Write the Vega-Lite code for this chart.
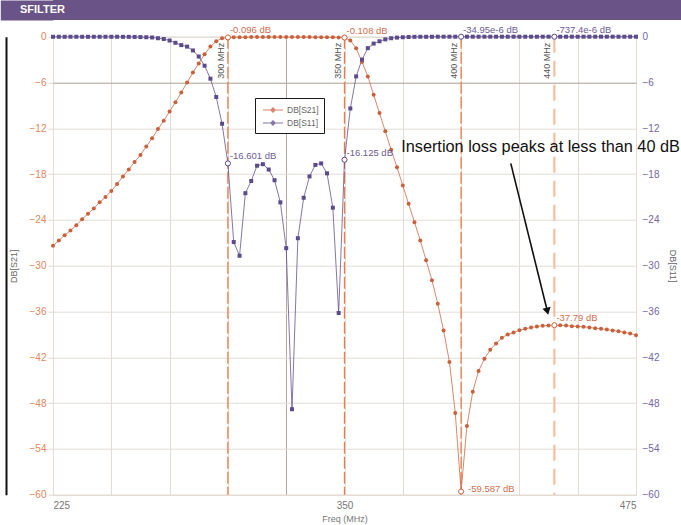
{
  "$schema": "https://vega.github.io/schema/vega-lite/v6.json",
  "padding": 0,
  "background": "white",
  "config": {"font": "Liberation Sans", "view": {"stroke": "#d8d0c9"}},
  "datasets": {
    "hdr": [{"w": "SFILTER", "v": 0.5}],
    "curves": [
      {"f":225,"s":"DB[S21]","db":-27.4},{"f":227.5,"s":"DB[S21]","db":-26.7},{"f":230,"s":"DB[S21]","db":-26.0},{"f":232.5,"s":"DB[S21]","db":-25.4},{"f":235,"s":"DB[S21]","db":-24.7},{"f":237.5,"s":"DB[S21]","db":-23.9},{"f":240,"s":"DB[S21]","db":-23.2},{"f":242.5,"s":"DB[S21]","db":-22.5},{"f":245,"s":"DB[S21]","db":-21.7},{"f":247.5,"s":"DB[S21]","db":-21.0},
      {"f":250,"s":"DB[S21]","db":-20.2},{"f":252.5,"s":"DB[S21]","db":-19.3},{"f":255,"s":"DB[S21]","db":-18.3},{"f":257.5,"s":"DB[S21]","db":-17.4},{"f":260,"s":"DB[S21]","db":-16.4},{"f":262.5,"s":"DB[S21]","db":-15.5},{"f":265,"s":"DB[S21]","db":-14.4},{"f":267.5,"s":"DB[S21]","db":-13.3},{"f":270,"s":"DB[S21]","db":-12.1},{"f":272.5,"s":"DB[S21]","db":-11.0},
      {"f":275,"s":"DB[S21]","db":-9.8},{"f":277.5,"s":"DB[S21]","db":-8.6},{"f":280,"s":"DB[S21]","db":-7.3},{"f":282.5,"s":"DB[S21]","db":-6.0},{"f":285,"s":"DB[S21]","db":-4.7},{"f":287.5,"s":"DB[S21]","db":-3.5},{"f":290,"s":"DB[S21]","db":-2.3},{"f":292.5,"s":"DB[S21]","db":-1.3},{"f":295,"s":"DB[S21]","db":-0.6},{"f":297.5,"s":"DB[S21]","db":-0.2},
      {"f":300,"s":"DB[S21]","db":-0.096},{"f":302.5,"s":"DB[S21]","db":-0.08},{"f":305,"s":"DB[S21]","db":-0.07},{"f":307.5,"s":"DB[S21]","db":-0.06},{"f":310,"s":"DB[S21]","db":-0.05},{"f":312.5,"s":"DB[S21]","db":-0.05},{"f":315,"s":"DB[S21]","db":-0.05},{"f":317.5,"s":"DB[S21]","db":-0.05},{"f":320,"s":"DB[S21]","db":-0.05},{"f":322.5,"s":"DB[S21]","db":-0.05},
      {"f":325,"s":"DB[S21]","db":-0.05},{"f":327.5,"s":"DB[S21]","db":-0.05},{"f":330,"s":"DB[S21]","db":-0.05},{"f":332.5,"s":"DB[S21]","db":-0.05},{"f":335,"s":"DB[S21]","db":-0.05},{"f":337.5,"s":"DB[S21]","db":-0.06},{"f":340,"s":"DB[S21]","db":-0.06},{"f":342.5,"s":"DB[S21]","db":-0.07},{"f":345,"s":"DB[S21]","db":-0.08},{"f":347.5,"s":"DB[S21]","db":-0.09},
      {"f":350,"s":"DB[S21]","db":-0.108},{"f":352.5,"s":"DB[S21]","db":-0.5},{"f":355,"s":"DB[S21]","db":-1.5},{"f":357.5,"s":"DB[S21]","db":-3.3},{"f":360,"s":"DB[S21]","db":-5.2},{"f":362.5,"s":"DB[S21]","db":-7.6},{"f":365,"s":"DB[S21]","db":-10.0},{"f":367.5,"s":"DB[S21]","db":-12.4},{"f":370,"s":"DB[S21]","db":-14.8},{"f":372.5,"s":"DB[S21]","db":-17.1},
      {"f":375,"s":"DB[S21]","db":-19.5},{"f":377.5,"s":"DB[S21]","db":-21.9},{"f":380,"s":"DB[S21]","db":-24.3},{"f":382.5,"s":"DB[S21]","db":-26.7},{"f":385,"s":"DB[S21]","db":-29.3},{"f":387.5,"s":"DB[S21]","db":-31.9},{"f":390,"s":"DB[S21]","db":-35.0},{"f":392.5,"s":"DB[S21]","db":-38.5},{"f":395,"s":"DB[S21]","db":-42.6},{"f":397.5,"s":"DB[S21]","db":-49.3},
      {"f":400,"s":"DB[S21]","db":-59.587},{"f":402.5,"s":"DB[S21]","db":-51.0},{"f":405,"s":"DB[S21]","db":-46.5},{"f":407.5,"s":"DB[S21]","db":-43.8},{"f":410,"s":"DB[S21]","db":-42.2},{"f":412.5,"s":"DB[S21]","db":-41.0},{"f":415,"s":"DB[S21]","db":-40.2},{"f":417.5,"s":"DB[S21]","db":-39.45},{"f":420,"s":"DB[S21]","db":-39.0},{"f":422.5,"s":"DB[S21]","db":-38.75},
      {"f":425,"s":"DB[S21]","db":-38.45},{"f":427.5,"s":"DB[S21]","db":-38.27},{"f":430,"s":"DB[S21]","db":-38.1},{"f":432.5,"s":"DB[S21]","db":-37.96},{"f":435,"s":"DB[S21]","db":-37.88},{"f":437.5,"s":"DB[S21]","db":-37.83},{"f":440,"s":"DB[S21]","db":-37.79},{"f":442.5,"s":"DB[S21]","db":-37.81},{"f":445,"s":"DB[S21]","db":-37.84},{"f":447.5,"s":"DB[S21]","db":-37.92},
      {"f":450,"s":"DB[S21]","db":-37.97},{"f":452.5,"s":"DB[S21]","db":-38.01},{"f":455,"s":"DB[S21]","db":-38.1},{"f":457.5,"s":"DB[S21]","db":-38.18},{"f":460,"s":"DB[S21]","db":-38.27},{"f":462.5,"s":"DB[S21]","db":-38.36},{"f":465,"s":"DB[S21]","db":-38.5},{"f":467.5,"s":"DB[S21]","db":-38.6},{"f":470,"s":"DB[S21]","db":-38.75},{"f":472.5,"s":"DB[S21]","db":-38.88},
      {"f":475,"s":"DB[S21]","db":-39.1},
      {"f":225,"s":"DB[S11]","db":-0.01},{"f":227.5,"s":"DB[S11]","db":-0.01},{"f":230,"s":"DB[S11]","db":-0.01},{"f":232.5,"s":"DB[S11]","db":-0.01},{"f":235,"s":"DB[S11]","db":-0.01},{"f":237.5,"s":"DB[S11]","db":-0.01},{"f":240,"s":"DB[S11]","db":-0.01},{"f":242.5,"s":"DB[S11]","db":-0.01},{"f":245,"s":"DB[S11]","db":-0.01},{"f":247.5,"s":"DB[S11]","db":-0.01},
      {"f":250,"s":"DB[S11]","db":-0.01},{"f":252.5,"s":"DB[S11]","db":-0.01},{"f":255,"s":"DB[S11]","db":-0.02},{"f":257.5,"s":"DB[S11]","db":-0.02},{"f":260,"s":"DB[S11]","db":-0.03},{"f":262.5,"s":"DB[S11]","db":-0.05},{"f":265,"s":"DB[S11]","db":-0.07},{"f":267.5,"s":"DB[S11]","db":-0.1},{"f":270,"s":"DB[S11]","db":-0.2},{"f":272.5,"s":"DB[S11]","db":-0.3},
      {"f":275,"s":"DB[S11]","db":-0.5},{"f":277.5,"s":"DB[S11]","db":-0.8},{"f":280,"s":"DB[S11]","db":-1.1},{"f":282.5,"s":"DB[S11]","db":-1.3},{"f":285,"s":"DB[S11]","db":-1.8},{"f":287.5,"s":"DB[S11]","db":-2.6},{"f":290,"s":"DB[S11]","db":-3.8},{"f":292.5,"s":"DB[S11]","db":-5.5},{"f":295,"s":"DB[S11]","db":-7.9},{"f":297.5,"s":"DB[S11]","db":-11.4},
      {"f":300,"s":"DB[S11]","db":-16.601},{"f":302.5,"s":"DB[S11]","db":-26.9},{"f":305,"s":"DB[S11]","db":-28.7},{"f":307.5,"s":"DB[S11]","db":-20.5},{"f":310,"s":"DB[S11]","db":-18.9},{"f":312.5,"s":"DB[S11]","db":-16.9},{"f":315,"s":"DB[S11]","db":-16.7},{"f":317.5,"s":"DB[S11]","db":-17.4},{"f":320,"s":"DB[S11]","db":-18.8},{"f":322.5,"s":"DB[S11]","db":-21.7},
      {"f":325,"s":"DB[S11]","db":-27.7},{"f":327.5,"s":"DB[S11]","db":-48.8},{"f":330,"s":"DB[S11]","db":-26.4},{"f":332.5,"s":"DB[S11]","db":-21.1},{"f":335,"s":"DB[S11]","db":-18.3},{"f":337.5,"s":"DB[S11]","db":-16.8},{"f":340,"s":"DB[S11]","db":-16.6},{"f":342.5,"s":"DB[S11]","db":-17.9},{"f":345,"s":"DB[S11]","db":-22.4},{"f":347.5,"s":"DB[S11]","db":-36.2},
      {"f":350,"s":"DB[S11]","db":-16.125},{"f":352.5,"s":"DB[S11]","db":-9.4},{"f":355,"s":"DB[S11]","db":-5.2},{"f":357.5,"s":"DB[S11]","db":-3.0},{"f":360,"s":"DB[S11]","db":-1.5},{"f":362.5,"s":"DB[S11]","db":-0.9},{"f":365,"s":"DB[S11]","db":-0.6},{"f":367.5,"s":"DB[S11]","db":-0.35},{"f":370,"s":"DB[S11]","db":-0.2},{"f":372.5,"s":"DB[S11]","db":-0.12},
      {"f":375,"s":"DB[S11]","db":-0.07},{"f":377.5,"s":"DB[S11]","db":-0.04},{"f":380,"s":"DB[S11]","db":-0.02},{"f":382.5,"s":"DB[S11]","db":-0.01},{"f":385,"s":"DB[S11]","db":-0.01},{"f":387.5,"s":"DB[S11]","db":-0.01},{"f":390,"s":"DB[S11]","db":0},{"f":392.5,"s":"DB[S11]","db":0},{"f":395,"s":"DB[S11]","db":0},{"f":397.5,"s":"DB[S11]","db":0},
      {"f":400,"s":"DB[S11]","db":0},{"f":402.5,"s":"DB[S11]","db":0},{"f":405,"s":"DB[S11]","db":0},{"f":407.5,"s":"DB[S11]","db":0},{"f":410,"s":"DB[S11]","db":0},{"f":412.5,"s":"DB[S11]","db":0},{"f":415,"s":"DB[S11]","db":0},{"f":417.5,"s":"DB[S11]","db":0},{"f":420,"s":"DB[S11]","db":0},{"f":422.5,"s":"DB[S11]","db":0},
      {"f":425,"s":"DB[S11]","db":0},{"f":427.5,"s":"DB[S11]","db":0},{"f":430,"s":"DB[S11]","db":0},{"f":432.5,"s":"DB[S11]","db":0},{"f":435,"s":"DB[S11]","db":0},{"f":437.5,"s":"DB[S11]","db":0},{"f":440,"s":"DB[S11]","db":0},{"f":442.5,"s":"DB[S11]","db":0},{"f":445,"s":"DB[S11]","db":0},{"f":447.5,"s":"DB[S11]","db":0},
      {"f":450,"s":"DB[S11]","db":0},{"f":452.5,"s":"DB[S11]","db":0},{"f":455,"s":"DB[S11]","db":0},{"f":457.5,"s":"DB[S11]","db":0},{"f":460,"s":"DB[S11]","db":0},{"f":462.5,"s":"DB[S11]","db":0},{"f":465,"s":"DB[S11]","db":0},{"f":467.5,"s":"DB[S11]","db":0},{"f":470,"s":"DB[S11]","db":0},{"f":472.5,"s":"DB[S11]","db":0},
      {"f":475,"s":"DB[S11]","db":0}
    ],
    "mk": [
      {"f":300,"s":"DB[S21]","db":-0.096,"t":"-0.096 dB"},
      {"f":350,"s":"DB[S21]","db":-0.108,"t":"-0.108 dB"},
      {"f":400,"s":"DB[S11]","db":0,"t":"-34.95e-6 dB"},
      {"f":440,"s":"DB[S11]","db":0,"t":"-737.4e-6 dB"},
      {"f":300,"s":"DB[S11]","db":-16.601,"t":"-16.601 dB"},
      {"f":350,"s":"DB[S11]","db":-16.125,"t":"-16.125 dB"},
      {"f":440,"s":"DB[S21]","db":-37.79,"t":"-37.79 dB"},
      {"f":400,"s":"DB[S21]","db":-59.587,"t":"-59.587 dB"}
    ],
    "ml": [
      {"f":300,"db":0,"t":"300 MHz"},
      {"f":350,"db":0,"t":"350 MHz"},
      {"f":400,"db":0,"t":"400 MHz"},
      {"f":440,"db":0,"t":"440 MHz"}
    ],
    "arrow": [{"f":421.3,"db":-16.6,"f2":437.0,"db2":-35.96}],
    "note": [{"f":374.3,"db":-14.46,"t":"Insertion loss peaks at less than 40 dB"}]
  },
  "concat": [
    {
      "width": 628.3,
      "height": 20,
      "view": {"stroke": null},
      "data": {"name": "hdr"},
      "title": {"text": "SFILTER", "anchor": "start", "frame": "group", "orient": "top", "offset": -15, "dx": -33, "color": "#ffffff", "fontSize": 11, "fontWeight": "bold", "font": "Liberation Sans", "zindex": 1},
      "layer": [
        {"mark": {"type": "rect", "color": "#6a5387"}},
        {
          "mark": {"type": "point", "opacity": 0},
          "encoding": {
            "y": {
              "field": "v", "type": "quantitative", "scale": {"domain": [0, 1]},
              "axis": {"orient": "left", "offset": 26.35, "domain": true, "domainWidth": 52.7, "domainColor": "#6a5387", "labels": false, "ticks": false, "grid": false, "title": null}
            }
          }
        }
      ]
    },
    {
      "width": 583,
      "height": 458,
      "encoding": {
        "x": {
          "field": "f", "type": "quantitative",
          "scale": {"domain": [225, 475], "nice": false, "zero": false},
          "axis": {
            "values": [225,250,275,300,325,350,375,400,425,450,475],
            "labelExpr": "(datum.value == 225 || datum.value == 350 || datum.value == 475) ? datum.label : ''",
            "labelColor": "#777777", "labelFontSize": 10, "labelPadding": 6,
            "tickSize": 0, "domain": false, "grid": true,
            "gridColor": {"condition": {"test": "datum.value === 325", "value": "#b3a89f"}, "value": "#e3dcd6"},
            "title": "Freq (MHz)", "titleColor": "#777777", "titleFontSize": 9, "titleFontWeight": "normal", "titlePadding": 4
          }
        }
      },
      "layer": [
        {
          "data": {"name": "ml"},
          "transform": [{"filter": "datum.f < 430"}],
          "mark": {"type": "rule", "color": "#f07a45", "strokeWidth": 1.3, "strokeDash": [12, 3]},
          "encoding": {}
        },
        {
          "data": {"name": "ml"},
          "transform": [{"filter": "datum.f > 430"}],
          "mark": {"type": "rule", "color": "#f7b898", "strokeWidth": 2, "strokeDash": [16, 8]},
          "encoding": {}
        },
        {
          "data": {"name": "curves"},
          "mark": {"type": "line", "strokeWidth": 1, "opacity": 0.75},
          "encoding": {
            "y": {
              "field": "db", "type": "quantitative",
              "scale": {"domain": [-60, 0], "nice": false, "zero": false},
              "axis": {
                "orient": "left",
                "values": [-60,-54,-48,-42,-36,-30,-24,-18,-12,-6,0],
                "labelColor": "#e0865c", "labelFontSize": 10, "labelPadding": 2,
                "tickSize": 5, "tickColor": "#ddd5cf", "domain": false, "grid": true,
                "gridColor": {"condition": {"test": "datum.value === -6", "value": "#ab9d91"}, "value": "#e3dcd6"},
                "title": "DB[S21]", "titleColor": "#666666", "titleFontSize": 9, "titleFontWeight": "normal", "titlePadding": 11
              }
            },
            "color": {
              "field": "s", "type": "nominal",
              "scale": {"domain": ["DB[S21]", "DB[S11]"], "range": ["#c8603a", "#5b4a8c"]},
              "legend": {
                "orient": "none", "legendX": 202, "legendY": 98, "title": null,
                "fillColor": "#ffffff", "strokeColor": "#1a1a1a", "padding": 5,
                "labelFontSize": 8.5, "labelColor": "#666666", "labelFont": "Liberation Sans",
                "symbolType": "M-1.67,0L1.67,0M-0.35,0L0,-0.35L0.35,0L0,0.35Z",
                "symbolSize": 144, "symbolStrokeWidth": 1.2, "symbolOffset": 6, "rowPadding": 1, "labelOffset": 7,
                "encode": {
                  "legend": {"update": {"strokeWidth": {"value": 1.5}}},
                  "symbols": {"update": {
                    "fill": {"signal": "datum.value === 'DB[S21]' ? '#c8603a' : '#5b4a8c'"},
                    "fillOpacity": {"value": 1},
                    "opacity": {"value": 1}
                  }}
                }
              }
            }
          }
        },
        {
          "data": {"name": "curves"},
          "transform": [{"filter": "datum.s === 'DB[S21]'"}],
          "mark": {"type": "circle", "size": 16, "opacity": 1},
          "encoding": {
            "y": {"field": "db", "type": "quantitative", "scale": {"domain": [-60, 0], "nice": false, "zero": false}, "axis": null},
            "color": {"field": "s", "type": "nominal", "legend": null}
          }
        },
        {
          "data": {"name": "curves"},
          "transform": [{"filter": "datum.s === 'DB[S11]'"}],
          "mark": {"type": "square", "size": 16, "opacity": 1},
          "encoding": {
            "y": {"field": "db", "type": "quantitative", "scale": {"domain": [-60, 0], "nice": false, "zero": false}, "axis": null},
            "color": {"field": "s", "type": "nominal", "legend": null}
          }
        },
        {
          "data": {"name": "mk"},
          "mark": {"type": "point", "filled": false, "fill": "white", "fillOpacity": 1, "size": 26, "strokeWidth": 1, "opacity": 1},
          "encoding": {
            "y": {
              "field": "db", "type": "quantitative",
              "scale": {"domain": [-60, 0], "nice": false, "zero": false},
              "axis": {
                "orient": "right",
                "values": [-60,-54,-48,-42,-36,-30,-24,-18,-12,-6,0],
                "labelColor": "#7565a2", "labelFontSize": 10, "labelPadding": 6,
                "tickSize": 0, "domain": false, "grid": false,
                "title": "DB[S11]", "titleColor": "#666666", "titleFontSize": 9, "titleFontWeight": "normal", "titlePadding": 9
              }
            },
            "color": {"field": "s", "type": "nominal", "legend": null}
          }
        },
        {
          "data": {"name": "mk"},
          "transform": [{"filter": "datum.db > -50"}],
          "mark": {"type": "text", "align": "left", "baseline": "middle", "dx": 2, "dy": -7, "fontSize": 9.5, "opacity": 0.9},
          "encoding": {
            "y": {"field": "db", "type": "quantitative", "scale": {"domain": [-60, 0], "nice": false, "zero": false}, "axis": null},
            "text": {"field": "t"},
            "color": {"field": "s", "type": "nominal", "legend": null}
          }
        },
        {
          "data": {"name": "mk"},
          "transform": [{"filter": "datum.db < -50"}],
          "mark": {"type": "text", "align": "left", "baseline": "middle", "dx": 7, "dy": -3, "fontSize": 9.5, "opacity": 0.9},
          "encoding": {
            "y": {"field": "db", "type": "quantitative", "scale": {"domain": [-60, 0], "nice": false, "zero": false}, "axis": null},
            "text": {"field": "t"},
            "color": {"field": "s", "type": "nominal", "legend": null}
          }
        },
        {
          "data": {"name": "ml"},
          "mark": {"type": "text", "angle": 270, "align": "right", "baseline": "bottom", "dx": -6, "dy": -2, "fontSize": 9, "color": "#555555"},
          "encoding": {
            "y": {"field": "db", "type": "quantitative", "scale": {"domain": [-60, 0], "nice": false, "zero": false}, "axis": null},
            "text": {"field": "t"}
          }
        },
        {
          "data": {"name": "arrow"},
          "mark": {"type": "rule", "color": "#111111", "strokeWidth": 1.6},
          "encoding": {
            "y": {
              "field": "db", "type": "quantitative",
              "scale": {"domain": [-60, 0], "nice": false, "zero": false},
              "axis": {"orient": "left", "offset": 52, "domain": true, "domainColor": "#ffffff", "domainOpacity": 0, "domainWidth": 1.4, "labels": false, "ticks": false, "grid": false, "title": null}
            },
            "x2": {"field": "f2"},
            "y2": {"field": "db2"}
          }
        },
        {
          "data": {"name": "arrow"},
          "mark": {"type": "point", "shape": "triangle-down", "angle": -13.9, "size": 70, "filled": true, "color": "#111111", "opacity": 1},
          "encoding": {
            "x": {"field": "f2", "type": "quantitative"},
            "y": {"field": "db2", "type": "quantitative", "scale": {"domain": [-60, 0], "nice": false, "zero": false}, "axis": null}
          }
        },
        {
          "data": {"name": "note"},
          "mark": {"type": "text", "align": "left", "baseline": "middle", "fontSize": 16.3, "color": "#111111", "font": "Liberation Sans"},
          "encoding": {
            "y": {
              "field": "db", "type": "quantitative",
              "scale": {"domain": [-60, 0], "nice": false, "zero": false},
              "axis": {"orient": "left", "offset": 47, "domain": true, "domainColor": "#111111", "domainWidth": 2, "labels": false, "ticks": false, "grid": false, "title": null}
            },
            "text": {"field": "t"}
          }
        }
      ],
      "resolve": {"scale": {"y": "independent"}}
    }
  ],
  "columns": 1,
  "bounds": "flush",
  "spacing": 16.7
}
